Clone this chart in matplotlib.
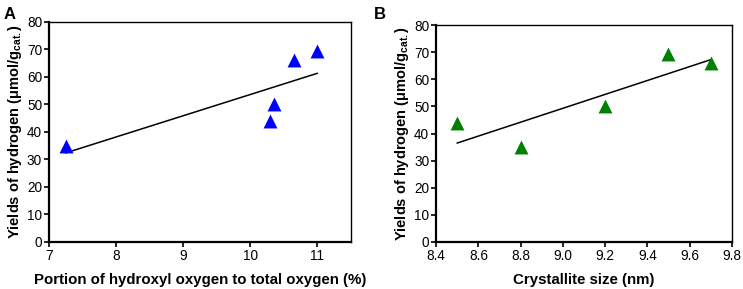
import matplotlib
matplotlib.use("Agg")
import matplotlib.pyplot as plt
import numpy as np

plt.rcParams['font.family'] = ['Liberation Sans', 'DejaVu Sans']
plt.rcParams['mathtext.fontset'] = 'custom'
plt.rcParams['mathtext.rm'] = 'Liberation Sans:bold'
plt.rcParams['mathtext.it'] = 'Liberation Sans:bold'
plt.rcParams['mathtext.bf'] = 'Liberation Sans:bold'

# Panel A data
hydroxyl_pct = [7.25, 10.3, 10.35, 10.65, 11.0]
yield_a = [35, 44, 50, 66, 69.5]
# Panel B data
crystallite_nm = [8.5, 8.8, 9.2, 9.5, 9.7]
yield_b = [44, 35, 50, 69.5, 66]

xticks_a = [7, 8, 9, 10, 11]
xticks_b = [8.4, 8.6, 8.8, 9.0, 9.2, 9.4, 9.6, 9.8]
yticks = [0, 10, 20, 30, 40, 50, 60, 70, 80]

fig = plt.figure(figsize=(7.43, 2.89), dpi=100)
axA = fig.add_axes([0.066, 0.163, 0.406, 0.761])
axB = fig.add_axes([0.587, 0.163, 0.398, 0.750])

ylabel = r'Yields of hydrogen ($\mathregular{\mu}$mol/g$_{\mathregular{cat.}}$)'

def style(ax):
    for s in ['left', 'bottom']:
        ax.spines[s].set_linewidth(1.6)
    for s in ['top', 'right']:
        ax.spines[s].set_linewidth(1.0)
    ax.tick_params(direction='out', length=3.5, width=1.2, labelsize=9.8, pad=1.5)
    ax.set_ylim(0, 80)
    ax.set_yticks(yticks)

def panel(ax, x, y, color, xlim, xticks, xlabel, xticklabels):
    ax.scatter(x, y, marker='^', s=100, color=color, zorder=3, linewidths=0)
    p = np.polyfit(x, y, 1)
    xs = np.array([min(x), max(x)])
    ax.plot(xs, np.polyval(p, xs), color='black', lw=1.1)
    ax.set_xlim(*xlim)
    ax.set_xticks(xticks)
    ax.set_xticklabels(xticklabels)
    style(ax)
    ax.set_xlabel(xlabel, fontsize=10.8, fontweight='bold', labelpad=7)
    ax.set_ylabel(ylabel, fontsize=10.5, fontweight='bold', labelpad=2)

panel(axA, hydroxyl_pct, yield_a, '#0000ff', (7, 11.5), xticks_a,
      'Portion of hydroxyl oxygen to total oxygen (%)', [str(t) for t in xticks_a])
panel(axB, crystallite_nm, yield_b, '#008000', (8.4, 9.8), xticks_b,
      'Crystallite size (nm)', [f'{t:.1f}' for t in xticks_b])

fig.text(0.005, 0.975, 'A', fontsize=12, fontweight='bold', va='top')
fig.text(0.503, 0.975, 'B', fontsize=12, fontweight='bold', va='top')

fig.savefig('out.png', dpi=100)
